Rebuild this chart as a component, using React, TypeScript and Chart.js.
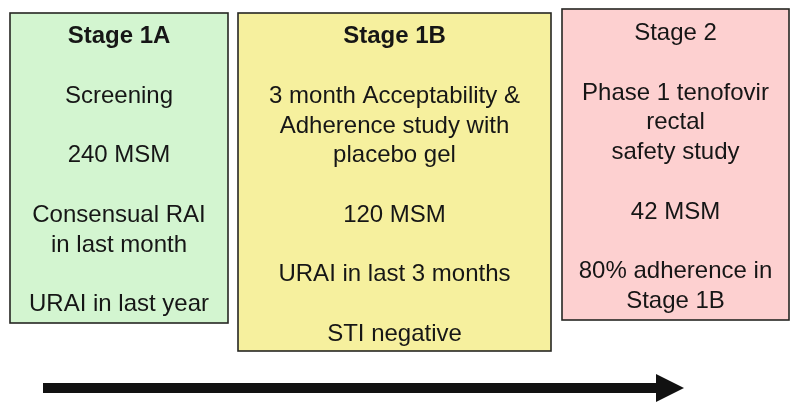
import React, { useEffect, useRef } from "react";
import { Chart, registerables } from "chart.js";

Chart.register(...registerables);

// ---- content ----
const stageTitles = ["Stage 1A", "Stage 1B", "Stage 2"];
const stageTitleBold = [true, true, false];
const stage1ALines = ["", "Screening", "", "240 MSM", "", "Consensual RAI", "in last month", "", "URAI in last year"];
const stage1BLines = ["", "3 month Acceptability &", "Adherence study with", "placebo gel", "", "120 MSM", "", "URAI in last 3 months", "", "STI negative"];
const stage2Lines = ["", "Phase 1 tenofovir", "rectal", "safety study", "", "42 MSM", "", "80% adherence in", "Stage 1B"];
const stageLines = [stage1ALines, stage1BLines, stage2Lines];

// box extents in diagram units (x: 0-800, y: 0-412 top-down)
const boxX0 = [10, 238, 562];
const boxX1 = [228, 551, 789];
const boxY0 = [13, 13, 9];
const boxY1 = [323, 351, 320];
const firstBaseline = [43.3, 43.3, 40];
const linePitch = 29.75;
const boxFill = ["#d3f5d0", "#f6f09e", "#fdd0d0"];

// arrow
const arrowStart = 43;
const arrowShaftEnd = 660;
const arrowTip = 684;
const arrowY = 388;

const FONT = "'Liberation Sans', Arial, Helvetica, sans-serif";
const FONT_SIZE = 24;

const diagramPlugin = {
  id: "diagram",
  beforeDatasetsDraw(chart: any) {
    const ctx = chart.ctx;
    const xs = chart.scales.x;
    const ys = chart.scales.y;
    ctx.save();
    for (let i = 0; i < stageTitles.length; i++) {
      const l = xs.getPixelForValue(boxX0[i]);
      const r = xs.getPixelForValue(boxX1[i]);
      const t = ys.getPixelForValue(boxY0[i]);
      const b = ys.getPixelForValue(boxY1[i]);
      ctx.fillStyle = boxFill[i];
      ctx.fillRect(l, t, r - l, b - t);
      ctx.strokeStyle = "#262622";
      ctx.lineWidth = 1.6;
      ctx.strokeRect(l, t, r - l, b - t);
      const cx = (l + r) / 2;
      ctx.fillStyle = "#161616";
      ctx.textAlign = "center";
      ctx.textBaseline = "alphabetic";
      ctx.font = `${stageTitleBold[i] ? "bold " : ""}${FONT_SIZE}px ${FONT}`;
      ctx.fillText(stageTitles[i], cx, ys.getPixelForValue(firstBaseline[i]));
      ctx.font = `${FONT_SIZE}px ${FONT}`;
      const lines = stageLines[i];
      for (let k = 0; k < lines.length; k++) {
        if (!lines[k]) continue;
        const y = ys.getPixelForValue(firstBaseline[i] + linePitch * (k + 1));
        ctx.fillText(lines[k], cx, y);
      }
    }
    ctx.restore();
  },
  afterDatasetsDraw(chart: any) {
    const ctx = chart.ctx;
    const xs = chart.scales.x;
    const ys = chart.scales.y;
    ctx.save();
    ctx.fillStyle = "#111111";
    ctx.beginPath();
    ctx.moveTo(xs.getPixelForValue(arrowShaftEnd - 4), ys.getPixelForValue(arrowY - 14));
    ctx.lineTo(xs.getPixelForValue(arrowTip), ys.getPixelForValue(arrowY));
    ctx.lineTo(xs.getPixelForValue(arrowShaftEnd - 4), ys.getPixelForValue(arrowY + 14));
    ctx.closePath();
    ctx.fill();
    ctx.restore();
  },
};

export default function App() {
  const ref = useRef<HTMLCanvasElement | null>(null);
  useEffect(() => {
    if (!ref.current) return;
    const chart = new Chart(ref.current, {
      type: "line",
      data: {
        datasets: [
          {
            data: [
              { x: arrowStart, y: arrowY },
              { x: arrowShaftEnd, y: arrowY },
            ],
            borderColor: "#111111",
            borderWidth: 10,
            borderCapStyle: "butt",
            pointRadius: 0,
            fill: false,
          },
        ],
      },
      options: {
        animation: false,
        responsive: true,
        maintainAspectRatio: false,
        layout: { padding: 0 },
        plugins: { legend: { display: false }, tooltip: { enabled: false } },
        events: [],
        scales: {
          x: { type: "linear", min: 0, max: 800, display: false },
          y: { type: "linear", min: 0, max: 412, reverse: true, display: false },
        },
      },
      plugins: [diagramPlugin],
    } as any);
    return () => chart.destroy();
  }, []);
  return (
    <div style={{ position: "absolute", left: 0, top: 0, width: 800, height: 412, background: "#ffffff" }}>
      <canvas ref={ref} />
    </div>
  );
}
